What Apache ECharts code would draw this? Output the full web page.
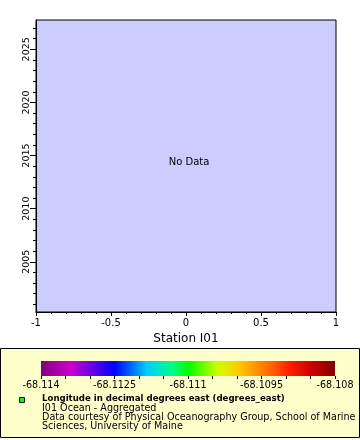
<!DOCTYPE html>
<html>
<head>
<meta charset="utf-8">
<script src="https://cdn.jsdelivr.net/npm/echarts@6/dist/echarts.min.js"></script>
<style>
  html, body { margin: 0; padding: 0; background: #fff; }
  #chart { width: 360px; height: 440px; }
</style>
</head>
<body>
<div id="chart"></div>
<script>
// station I01 returned nothing for this query
const stationPoints = [];

const yearRange = [2000.27, 2027.76];
const yearMajor = [2005, 2010, 2015, 2020, 2025];
const yearMinor = [2001, 2002, 2003, 2004, 2005, 2006, 2007, 2008, 2009, 2010, 2011, 2012, 2013, 2014,
  2015, 2016, 2017, 2018, 2019, 2020, 2021, 2022, 2023, 2024, 2025, 2026, 2027];
const xTicks = [-1, -0.5, 0, 0.5, 1];

// longitude colour scale
const colorTicks = [-68.114, -68.1125, -68.111, -68.1095, -68.108];
const colorMinor = [-68.114, -68.1135, -68.113, -68.1125, -68.112, -68.1115, -68.111,
  -68.1105, -68.11, -68.1095, -68.109, -68.1085, -68.108];
const colorRamp = ['#800080', '#cc00cc', '#0000ff', '#00ccff', '#00ff80', '#00ff00',
  '#ccff00', '#ffcc00', '#ff6600', '#ff1a00', '#cc0000', '#800000'];
const rampPos = [0, 0.1, 0.25, 0.36, 0.45, 0.5, 0.6, 0.67, 0.78, 0.85, 0.92, 1];

const legendLines = [
  'I01 Ocean - Aggregated',
  'Data courtesy of Physical Oceanography Group, School of Marine',
  'Sciences, University of Maine'
];

const chart = echarts.init(document.getElementById('chart'));
const font = 'DejaVu Sans';

const option = {
  animation: false,
  textStyle: { fontFamily: font, color: '#000' },
  grid: [
    {
      left: 36, top: 20, width: 300, height: 292,
      show: true, backgroundColor: '#ccccff', borderColor: '#000', borderWidth: 1
    },
    { left: 41, top: 361, width: 294, height: 15 }
  ],
  xAxis: [
    {
      gridIndex: 0, type: 'value', min: xTicks[0], max: xTicks[xTicks.length - 1], interval: 0.5,
      name: 'Station I01', nameLocation: 'middle', nameGap: 21,
      nameTextStyle: { fontSize: 12, fontFamily: font, color: '#000' },
      axisLine: { onZero: false, lineStyle: { color: '#000' } },
      axisTick: { length: 4, lineStyle: { color: '#000' } },
      minorTick: { show: true, splitNumber: 5, length: 2, lineStyle: { color: '#000' } },
      axisLabel: { fontSize: 10, color: '#000', margin: 6, fontFamily: font },
      splitLine: { show: false }
    },
    {
      gridIndex: 1, type: 'value', min: colorTicks[0], max: colorTicks[colorTicks.length - 1],
      axisLine: { show: false, onZero: false },
      axisTick: { length: 3, customValues: colorMinor, lineStyle: { color: '#000' } },
      axisLabel: {
        customValues: colorTicks, fontSize: 9.6, color: '#000', margin: 4, fontFamily: font,
        showMinLabel: true, showMaxLabel: true, hideOverlap: false,
        formatter: v => String(+v.toFixed(4))
      },
      splitLine: { show: false }
    }
  ],
  yAxis: [
    {
      gridIndex: 0, type: 'value', min: yearRange[0], max: yearRange[1],
      axisLine: { show: true, onZero: false, lineStyle: { color: '#000' } },
      axisTick: { show: true, length: 6, customValues: yearMajor, lineStyle: { color: '#000' } },
      axisLabel: {
        customValues: yearMajor, rotate: 90, fontSize: 9.5, color: '#000', margin: 4, fontFamily: font,
        formatter: v => String(Math.round(v))
      },
      splitLine: { show: false }
    },
    {
      gridIndex: 0, type: 'value', min: yearRange[0], max: yearRange[1], position: 'left',
      axisLine: { show: false, onZero: false },
      axisTick: { show: true, length: 3, customValues: yearMinor, lineStyle: { color: '#000' } },
      axisLabel: { show: false },
      splitLine: { show: false }
    },
    { gridIndex: 1, type: 'value', min: 0, max: 1, show: false }
  ],
  series: [
    {
      type: 'scatter', xAxisIndex: 0, yAxisIndex: 0,
      data: stationPoints, symbolSize: 5, itemStyle: { color: '#00ff00' }
    },
    {
      type: 'custom', xAxisIndex: 1, yAxisIndex: 2,
      data: [[colorTicks[0], colorTicks[colorTicks.length - 1]]],
      renderItem: (params, api) => {
        const p0 = api.coord([api.value(0), 0]);
        const p1 = api.coord([api.value(1), 1]);
        return {
          type: 'rect',
          shape: { x: p0[0], y: p1[1], width: p1[0] - p0[0], height: p0[1] - p1[1] },
          style: {
            fill: {
              type: 'linear', x: 0, y: 0, x2: 1, y2: 0,
              colorStops: colorRamp.map((c, i) => ({ offset: rampPos[i], color: c }))
            }
          }
        };
      }
    }
  ],
  graphic: [
    {
      type: 'rect', z: -10, silent: true,
      shape: { x: 0.5, y: 348.5, width: 359, height: 89 },
      style: { fill: '#ffffcc', stroke: '#000', lineWidth: 1 }
    },
    {
      type: 'text', z: 10, x: 189, y: 162,
      style: { text: 'No Data', fontSize: 10, fontFamily: font, fill: '#000', textAlign: 'center', textVerticalAlign: 'middle' }
    },
    {
      type: 'rect', z: 10,
      shape: { x: 19.5, y: 397.5, width: 5, height: 5 },
      style: { fill: '#00ff00', stroke: '#000', lineWidth: 1 }
    },
    {
      type: 'text', z: 10, x: 42, y: 399,
      style: {
        text: 'Longitude in decimal degrees east (degrees_east)', fontSize: 8.6, fontWeight: 'bold',
        fontFamily: font, fill: '#000', textVerticalAlign: 'middle'
      }
    },
    ...legendLines.map((t, i) => ({
      type: 'text', z: 10, x: 42, y: 408 + i * 9,
      style: { text: t, fontSize: 9.6, fontFamily: font, fill: '#000', textVerticalAlign: 'middle' }
    }))
  ]
};

chart.setOption(option);
window.addEventListener('resize', () => chart.resize());
</script>
</body>
</html>
